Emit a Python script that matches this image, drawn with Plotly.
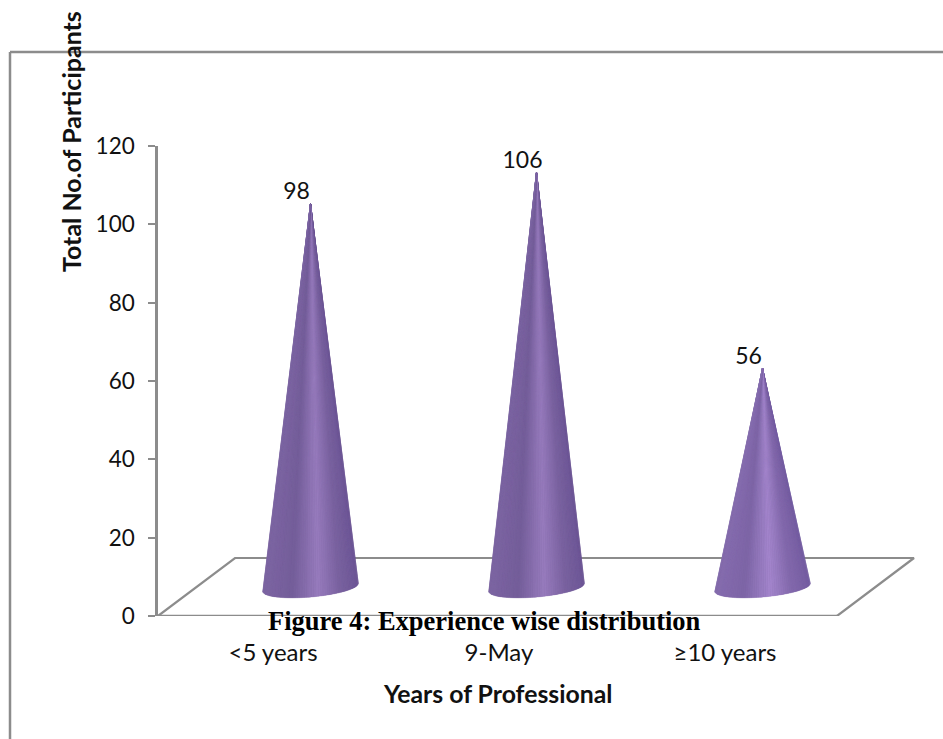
import math
import plotly.graph_objects as go

# Chart data
categories = ["<5 years", "9-May", "≥10 years"]
participants = [98, 106, 56]
y_ticks = [0, 20, 40, 60, 80, 100, 120]

WIDTH, HEIGHT = 943, 739
LEFT, RIGHT, TOP, BOTTOM = 158, 918, 146, 616
X_UNIT = 226.0          # pixels per category
X_ZERO = 273.0          # pixel position of the first category
Y_UNIT = (BOTTOM - TOP) / 120

GRID = "#8c8c8c"
TEXT = "#111111"
SANS = "Lato, 'Open Sans', sans-serif"

# Pseudo-3D geometry in axis units: floor depth and where each cone stands
DEPTH_X = 77 / X_UNIT
DEPTH_Y = 58 / Y_UNIT
CONE_DX = 37.5 / X_UNIT
CONE_DY = 7.3
RADIUS = 48 / X_UNIT
MINOR = 9.6             # minor radius, in pixels
TILT = math.radians(5)
LABEL_DX = -14 / X_UNIT
LABEL_DY = 10 / Y_UNIT

# Lighting across the visible surface: (position, rgb)
SHADE = [
    (0.00, (124, 102, 162)),
    (0.12, (122, 98, 160)),
    (0.30, (116, 94, 154)),
    (0.58, (152, 124, 190)),
    (0.80, (122, 98, 160)),
    (1.00, (108, 86, 150)),
]
# Highlight strength per cone
glow = [1.0, 1.0, 1.08]


def shade(u, gain):
    for (a, ca), (b, cb) in zip(SHADE, SHADE[1:]):
        if u <= b:
            f = (u - a) / (b - a)
            r, g, bl = [ca[i] + (cb[i] - ca[i]) * f for i in range(3)]
            break
    r, g, bl = [min(255, int(c * gain)) for c in (r, g, bl)]
    return f"rgb({r},{g},{bl})"


def rim_point(cx, cy, t):
    """Point on the tilted base ellipse, t=0 right, t=pi left, passing the front."""
    px = RADIUS * X_UNIT * math.cos(t) * math.cos(TILT) + MINOR * math.sin(t) * math.sin(TILT)
    py = RADIUS * X_UNIT * math.cos(t) * math.sin(TILT) - MINOR * math.sin(t) * math.cos(TILT)
    return cx + px / X_UNIT, cy + py / Y_UNIT


fig = go.Figure()

# Floor of the 3D plot
x_lo, x_hi = (LEFT - X_ZERO) / X_UNIT, (837 - X_ZERO) / X_UNIT
fig.add_trace(go.Scatter(
    x=[x_lo, x_lo + DEPTH_X, x_hi + DEPTH_X, x_hi],
    y=[0, DEPTH_Y, DEPTH_Y, 0],
    mode="lines", line=dict(color=GRID, width=2.2), hoverinfo="skip", showlegend=False,
))
fig.add_trace(go.Scatter(
    x=[x_lo, x_hi], y=[0, 0],
    mode="lines", line=dict(color=GRID, width=2.5), hoverinfo="skip", showlegend=False,
))

# Cones, drawn as a fan of narrow facets between apex and front rim
STEPS = 64
for i, value in enumerate(participants):
    cx, cy = i + CONE_DX, CONE_DY
    apex = (cx, value + CONE_DY)
    rim = [rim_point(cx, cy, math.pi * k / STEPS) for k in range(STEPS + 1)]
    fig.add_trace(go.Scatter(
        x=[apex[0]] + [p[0] for p in rim], y=[apex[1]] + [p[1] for p in rim],
        mode="lines", fill="toself", fillcolor="rgb(125,100,160)",
        line=dict(width=0), hoverinfo="skip", showlegend=False,
    ))
    for k in range(STEPS):
        a, b = rim[k], rim[k + 1]
        u = ((a[0] + b[0]) / 2 - (cx - RADIUS)) / (2 * RADIUS)
        colour = shade(max(0.0, min(1.0, u)), glow[i])
        fig.add_trace(go.Scatter(
            x=[apex[0], a[0], b[0], apex[0]], y=[apex[1], a[1], b[1], apex[1]],
            mode="lines", fill="toself", fillcolor=colour,
            line=dict(width=0.4, color=colour), hoverinfo="skip", showlegend=False,
        ))

# Value labels
fig.add_trace(go.Scatter(
    x=[i + CONE_DX + LABEL_DX for i in range(len(participants))],
    y=[v + CONE_DY + LABEL_DY for v in participants],
    text=[str(v) for v in participants],
    mode="text", textposition="middle center",
    textfont=dict(family=SANS, size=23, color=TEXT),
    hoverinfo="skip", showlegend=False,
))

fig.update_layout(
    width=WIDTH, height=HEIGHT, autosize=False,
    margin=dict(l=LEFT, r=WIDTH - RIGHT, t=TOP, b=HEIGHT - BOTTOM, pad=0),
    paper_bgcolor="white", plot_bgcolor="white", showlegend=False,
    xaxis=dict(
        range=[(LEFT - X_ZERO) / X_UNIT, (RIGHT - X_ZERO) / X_UNIT],
        tickmode="array", tickvals=list(range(len(categories))), ticktext=categories,
        ticks="", showline=False, showgrid=False, zeroline=False,
        ticklabelstandoff=20,
        tickfont=dict(family=SANS, size=24, color=TEXT),
    ),
    yaxis=dict(
        range=[0, 120], tickmode="array", tickvals=y_ticks,
        ticks="outside", ticklen=7, tickwidth=2, tickcolor=GRID,
        showline=True, linecolor=GRID, linewidth=2.5,
        showgrid=False, zeroline=False, ticklabelstandoff=9,
        tickfont=dict(family=SANS, size=22.5, color=TEXT),
    ),
    # Outer chart frame: top and left edges only
    shapes=[
        dict(type="line", xref="paper", yref="paper", layer="below",
             x0=(10 - LEFT) / (RIGHT - LEFT), x1=(WIDTH - LEFT) / (RIGHT - LEFT),
             y0=(BOTTOM - 52) / (BOTTOM - TOP), y1=(BOTTOM - 52) / (BOTTOM - TOP),
             line=dict(color=GRID, width=2.5)),
        dict(type="line", xref="paper", yref="paper", layer="below",
             x0=(10 - LEFT) / (RIGHT - LEFT), x1=(10 - LEFT) / (RIGHT - LEFT),
             y0=(BOTTOM - 52) / (BOTTOM - TOP), y1=(BOTTOM - HEIGHT) / (BOTTOM - TOP),
             line=dict(color=GRID, width=2.5)),
    ],
    annotations=[
        dict(text="<b>Total No.of Participants</b>", textangle=-90, showarrow=False,
             xref="paper", yref="paper", xanchor="center", yanchor="middle",
             x=(71 - LEFT) / (RIGHT - LEFT), y=(BOTTOM - 142) / (BOTTOM - TOP),
             font=dict(family=SANS, size=25, color=TEXT)),
        dict(text="<b>Years of Professional</b>", showarrow=False,
             xref="paper", yref="paper", xanchor="center", yanchor="middle",
             x=(497 - LEFT) / (RIGHT - LEFT), y=(BOTTOM - 693) / (BOTTOM - TOP),
             font=dict(family=SANS, size=24.8, color=TEXT)),
        dict(text="<b>Figure 4: Experience wise distribution</b>", showarrow=False,
             xref="paper", yref="paper", xanchor="center", yanchor="middle",
             x=(484 - LEFT) / (RIGHT - LEFT), y=(BOTTOM - 621) / (BOTTOM - TOP),
             font=dict(family="'Liberation Serif', serif", size=26.5, color="#000000")),
    ],
)

fig.write_html("out.html")
